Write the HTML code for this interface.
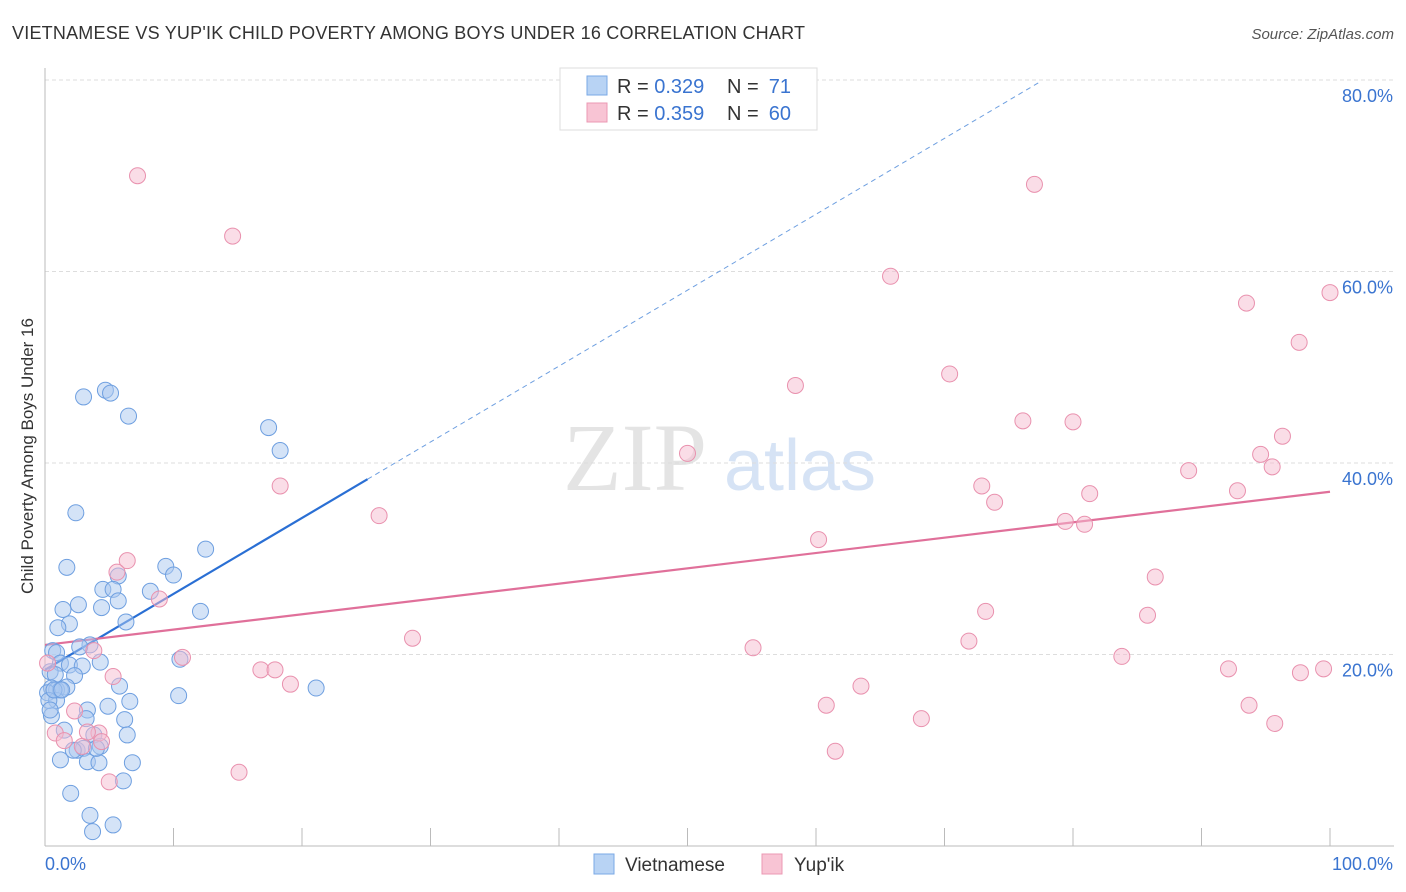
<!DOCTYPE html>
<html><head><meta charset="utf-8"><style>
body{margin:0;background:#fff;font-family:"Liberation Sans",sans-serif;}
</style></head><body>
<svg id="chart" width="1406" height="892" style="display:block">
<text x="12" y="39" font-size="18" fill="#333" textLength="793">VIETNAMESE VS YUP'IK CHILD POVERTY AMONG BOYS UNDER 16 CORRELATION CHART</text>
<text x="1394" y="39" font-size="15" font-style="italic" fill="#555" text-anchor="end">Source: ZipAtlas.com</text>
<text x="33" y="456" font-size="17" fill="#333" text-anchor="middle" transform="rotate(-90 33 456)">Child Poverty Among Boys Under 16</text>
<g>
<text x="635" y="490" font-size="96" font-family="Liberation Serif,serif" fill="#e4e4e4" text-anchor="middle">ZIP</text>
<text x="800" y="490" font-size="72" fill="#d6e3f5" text-anchor="middle">atlas</text>
</g>
<g id="grid"></g><g id="axes"></g><g id="lines"></g><g id="pts"></g>
<g>
<rect x="560" y="68" width="257" height="62" fill="#fff" stroke="#ddd"/>
<rect x="587" y="76" width="20" height="19" fill="#b8d3f4" stroke="#7aa8e6"/>
<rect x="587" y="103" width="20" height="19" fill="#f8c4d4" stroke="#eb98b3"/>
<text x="617" y="93" font-size="20" fill="#333">R = <tspan fill="#3a74d0">0.329</tspan></text>
<text x="727" y="93" font-size="20" fill="#333">N = </text>
<text x="791" y="93" font-size="20" fill="#3a74d0" text-anchor="end">71</text>
<text x="617" y="120" font-size="20" fill="#333">R = <tspan fill="#3a74d0">0.359</tspan></text>
<text x="727" y="120" font-size="20" fill="#333">N = </text>
<text x="791" y="120" font-size="20" fill="#3a74d0" text-anchor="end">60</text>
</g>
<g>
<rect x="594" y="854" width="20" height="20" fill="#b8d3f4" stroke="#7aa8e6"/>
<text x="625" y="871" font-size="19" fill="#333">Vietnamese</text>
<rect x="762" y="854" width="20" height="20" fill="#f8c4d4" stroke="#eb98b3"/>
<text x="794" y="871" font-size="19" fill="#333">Yup'ik</text>
</g>
</svg>
<script>
const yTicks=[20,40,60,80];
const yTickLabels=["20.0%","40.0%","60.0%","80.0%"];
const xTicks=[0,10,20,30,40,50,60,70,80,90,100];
const blueX=[4.7,5.1,3.0,6.5,17.4,18.3,2.4,12.5,1.7,9.4,10.0,5.7,4.5,5.3,8.2,5.7,2.6,4.4,1.4,12.1,6.3,1.9,1.0,3.5,2.7,0.6,0.9,4.3,1.2,1.9,2.9,10.5,2.3,0.4,0.8,1.7,0.5,0.9,1.2,0.2,5.8,21.1,10.4,0.9,6.6,4.9,3.3,0.5,6.2,3.2,1.5,6.4,3.8,4.3,2.5,3.0,1.2,3.3,4.2,6.8,6.1,2.0,3.5,5.3,3.7,0.3,0.4,0.7,1.3,2.2,4.0];
const blueY=[47.6,47.3,46.9,44.9,43.7,41.3,34.8,31.0,29.1,29.2,28.3,28.2,26.8,26.8,26.6,25.6,25.2,24.9,24.7,24.5,23.4,23.2,22.8,21.0,20.8,20.4,20.2,19.2,19.1,18.9,18.8,19.5,17.8,18.2,17.9,16.6,16.5,16.3,16.3,16.0,16.7,16.5,15.7,15.2,15.1,14.6,14.2,13.6,13.2,13.3,12.1,11.6,11.6,10.4,10.0,10.2,9.0,8.8,8.7,8.7,6.8,5.5,3.2,2.2,1.5,15.2,14.2,16.3,16.3,10.0,10.2];
const pinkX=[7.2,14.6,77.0,65.8,100,93.5,97.6,58.4,70.4,76.1,80.0,96.3,50.0,94.6,95.5,89.0,18.3,72.9,81.3,73.9,92.8,26.0,79.4,80.9,60.2,6.4,5.6,86.4,8.9,73.2,85.8,28.6,71.9,55.1,3.8,10.7,83.8,16.8,17.9,19.1,92.1,99.5,97.7,5.3,0.2,63.5,60.8,93.7,2.3,68.2,95.7,0.8,1.5,2.9,4.2,4.4,61.5,15.1,5.0,3.3];
const pinkY=[70.0,63.7,69.1,59.5,57.8,56.7,52.6,48.1,49.3,44.4,44.3,42.8,41.0,40.9,39.6,39.2,37.6,37.6,36.8,35.9,37.1,34.5,33.9,33.6,32.0,29.8,28.6,28.1,25.8,24.5,24.1,21.7,21.4,20.7,20.4,19.7,19.8,18.4,18.4,16.9,18.5,18.5,18.1,17.7,19.1,16.7,14.7,14.7,14.1,13.3,12.8,11.8,11.0,10.4,11.8,10.9,9.9,7.7,6.7,11.9];
const blueFit=[18.4,0.793];const blueSolidEnd=25.1;const blueDashEnd=77.4;
const pinkFit=[21.0,0.160];
const X=v=>45+v*12.85, Y=v=>846-v*9.575;
const NS="http://www.w3.org/2000/svg";
function mk(p,t,a){const e=document.createElementNS(NS,t);for(const k in a)e.setAttribute(k,a[k]);p.appendChild(e);return e;}
const grid=document.getElementById('grid'),axes=document.getElementById('axes'),lines=document.getElementById('lines'),pts=document.getElementById('pts');
yTicks.forEach((t,i)=>{
 const l=mk(grid,'line',{x1:45,x2:1394,y1:Y(t),y2:Y(t),stroke:'#ddd','stroke-dasharray':'4,3'});
 
 
 const tx=mk(axes,'text',{x:1393,y:Y(t)+22,'font-size':18,fill:'#3a74d0','text-anchor':'end'});
 tx.textContent=yTickLabels[i];
 
 
});
const ya=mk(axes,'line',{x1:45,x2:45,y1:68,y2:846,stroke:'#bbb'});


const xa=mk(axes,'line',{x1:45,x2:1394,y1:846,y2:846,stroke:'#bbb'});


xTicks.forEach(t=>{
 const l=mk(axes,'line',{x1:X(t),x2:X(t),y1:828,y2:846,stroke:'#bbb'});
 
 
});
const x0=mk(axes,'text',{x:45,y:870,'font-size':18,fill:'#3a74d0'});x0.textContent='0.0%';


const x1=mk(axes,'text',{x:1393,y:870,'font-size':18,fill:'#3a74d0','text-anchor':'end'});x1.textContent='100.0%';


function dot(x,y,f,s,n){const c=mk(pts,'circle',{cx:X(x),cy:Y(y),r:8,fill:f,'fill-opacity':0.5,stroke:s,'stroke-width':1});
 
 }
blueX.forEach((x,i)=>dot(x,blueY[i],'#a9c8f0','#6e9fe0','vietnamese-point'));
pinkX.forEach((x,i)=>dot(x,pinkY[i],'#f6bccf','#e991ae','yupik-point'));
const bf=v=>blueFit[0]+blueFit[1]*v, pf=v=>pinkFit[0]+pinkFit[1]*v;
const b1=mk(lines,'line',{x1:X(0),y1:Y(bf(0)),x2:X(blueSolidEnd),y2:Y(bf(blueSolidEnd)),stroke:'#2a6fd4','stroke-width':2.2});


const b2=mk(lines,'line',{x1:X(blueSolidEnd),y1:Y(bf(blueSolidEnd)),x2:X(blueDashEnd),y2:Y(bf(blueDashEnd)),stroke:'#6e9fe0','stroke-width':1,'stroke-dasharray':'5,4'});


const p1=mk(lines,'line',{x1:X(0),y1:Y(pf(0)),x2:X(100),y2:Y(pf(100)),stroke:'#e0709a','stroke-width':2.2});


</script>
</body></html>
